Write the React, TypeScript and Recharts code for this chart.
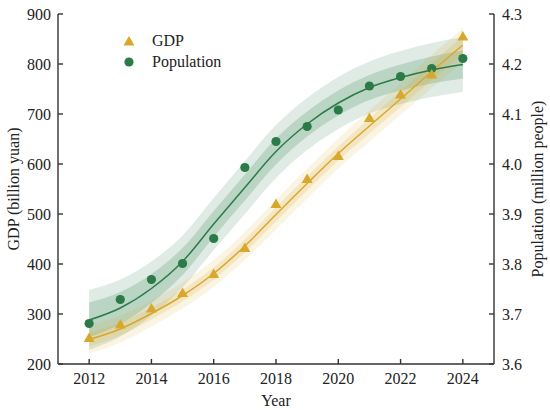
import {
    ComposedChart,
    Area,
    Line,
    Scatter,
    XAxis,
    YAxis,
    Legend,
} from 'recharts';

// yearly observations
const years = [2012, 2013, 2014, 2015, 2016, 2017, 2018, 2019, 2020, 2021, 2022, 2023, 2024];
const gdp = [251, 278, 310, 341, 379, 431, 519, 569, 615, 691, 738, 778, 854];
const population = [3.681, 3.729, 3.769, 3.801, 3.851, 3.993, 4.045, 4.075, 4.108, 4.156, 4.175, 4.191, 4.211];

// fitted curves
const gdpFit = [249, 270, 301, 337, 381, 436, 499, 561, 621, 676, 730, 785, 838];
const gdpInnerLow = [235, 257, 289, 325, 369, 423, 485, 547, 607, 661, 714, 768, 820];
const gdpInnerHigh = [263, 283, 313, 349, 393, 449, 513, 575, 635, 691, 746, 802, 856];
const gdpOuterLow = [221, 243, 275, 311, 354, 408, 469, 531, 591, 645, 698, 752, 804];
const gdpOuterHigh = [277, 297, 327, 363, 408, 464, 529, 591, 651, 707, 762, 818, 872];

const popFit = [3.688, 3.712, 3.751, 3.805, 3.880, 3.953, 4.025, 4.080, 4.122, 4.153, 4.173, 4.188, 4.199];
const popInnerLow = [3.653, 3.680, 3.722, 3.778, 3.854, 3.927, 3.999, 4.055, 4.097, 4.128, 4.147, 4.161, 4.171];
const popInnerHigh = [3.723, 3.744, 3.780, 3.832, 3.906, 3.979, 4.051, 4.105, 4.147, 4.178, 4.199, 4.215, 4.227];
const popOuterLow = [3.628, 3.655, 3.697, 3.753, 3.828, 3.900, 3.972, 4.028, 4.070, 4.101, 4.120, 4.134, 4.144];
const popOuterHigh = [3.748, 3.769, 3.805, 3.857, 3.932, 4.006, 4.078, 4.132, 4.174, 4.205, 4.226, 4.242, 4.254];

const yearTicks = [2012, 2014, 2016, 2018, 2020, 2022, 2024];
const gdpTicks = [200, 300, 400, 500, 600, 700, 800, 900];
const popTicks = [3.6, 3.7, 3.8, 3.9, 4.0, 4.1, 4.2, 4.3];

const GOLD = '#d8a82a';
const GREEN = '#2b7b49';
const AXIS = '#333';
const FONT = '"Liberation Serif", "Times New Roman", serif';

const chartData = years.map((year, i) => ({
    year,
    gdp: gdp[i],
    pop: population[i],
    gdpFit: gdpFit[i],
    gdpInner: [gdpInnerLow[i], gdpInnerHigh[i]],
    gdpOuter: [gdpOuterLow[i], gdpOuterHigh[i]],
    popFit: popFit[i],
    popInner: [popInnerLow[i], popInnerHigh[i]],
    popOuter: [popOuterLow[i], popOuterHigh[i]],
}));

const tickStyle = {fontSize: 16, fill: '#222', fontFamily: FONT};

const Triangle = ({cx, cy}: { cx?: number; cy?: number }) => {
    if (cx == null || cy == null) return null;
    return <polygon points={`${cx},${cy - 6} ${cx - 5.5},${cy + 3.5} ${cx + 5.5},${cy + 3.5}`} fill={GOLD}/>;
};

const Dot = ({cx, cy}: { cx?: number; cy?: number }) => {
    if (cx == null || cy == null) return null;
    return <circle cx={cx} cy={cy} r={4.6} fill={GREEN}/>;
};

// rotated axis title, placed from the axis box
const sideTitle = (text: string, dx: number) => (props: any) => {
    const {x, y, width, height} = props.viewBox;
    const cx = dx < 0 ? x + width + dx : x + dx;
    const cy = y + height / 2;
    return (
        <text x={cx} y={cy} transform={`rotate(-90 ${cx} ${cy})`} textAnchor="middle"
              dominantBaseline="central" fontSize={16} fill="#222" fontFamily={FONT}>
            {text}
        </text>
    );
};

const yearTitle = (props: any) => {
    const {x, y, width} = props.viewBox;
    return (
        <text x={x + width / 2} y={y + 36} textAnchor="middle" dominantBaseline="central"
              fontSize={16} fill="#222" fontFamily={FONT}>
            Year
        </text>
    );
};

const LegendBox = () => (
    <div style={{fontFamily: FONT, fontSize: 16, color: '#222'}}>
        {[{name: 'GDP', mark: 'tri'}, {name: 'Population', mark: 'dot'}].map((item) => (
            <div key={item.name} style={{display: 'flex', alignItems: 'center', height: 21}}>
                <svg width={16} height={16} style={{marginRight: 15}}>
                    {item.mark === 'tri' ? <Triangle cx={8} cy={9}/> : <Dot cx={8} cy={8}/>}
                </svg>
                <span>{item.name}</span>
            </div>
        ))}
    </div>
);

export default function App() {
    return (
        <div style={{position: 'absolute', left: 0, top: 0, width: 550, height: 410, fontFamily: FONT}}>
            <ComposedChart width={550} height={410} data={chartData}
                           margin={{top: 14, right: 0, left: 0, bottom: 0}}>
                <XAxis dataKey="year" type="number" domain={[2011, 2025]} ticks={yearTicks}
                       height={46} tick={tickStyle} tickSize={-5} tickMargin={14}
                       axisLine={{stroke: AXIS, strokeWidth: 1.4}} tickLine={{stroke: AXIS, strokeWidth: 1.4}}
                       label={yearTitle}/>
                <YAxis yAxisId="left" orientation="left" domain={[200, 900]} ticks={gdpTicks}
                       width={58} tick={tickStyle} tickSize={-5} tickMargin={12}
                       axisLine={{stroke: AXIS, strokeWidth: 1.4}} tickLine={{stroke: AXIS, strokeWidth: 1.4}}
                       label={sideTitle('GDP (billion yuan)', 13.5)}/>
                <YAxis yAxisId="right" orientation="right" domain={[3.6, 4.3]} ticks={popTicks}
                       width={56} tick={tickStyle} tickSize={-5} tickMargin={13}
                       tickFormatter={(v: number) => v.toFixed(1)}
                       axisLine={{stroke: AXIS, strokeWidth: 1.4}} tickLine={{stroke: AXIS, strokeWidth: 1.4}}
                       label={sideTitle('Population (million people)', -13)}/>

                <Legend layout="vertical" align="center" verticalAlign="middle" content={<LegendBox/>}
                        wrapperStyle={{left: 121, top: 30, width: 'auto'}}/>

                <Area yAxisId="right" dataKey="popOuter" type="monotone" stroke="none"
                      fill={GREEN} fillOpacity={0.15} isAnimationActive={false} legendType="none"/>
                <Area yAxisId="right" dataKey="popInner" type="monotone" stroke="none"
                      fill={GREEN} fillOpacity={0.2} isAnimationActive={false} legendType="none"/>
                <Area yAxisId="left" dataKey="gdpOuter" type="monotone" stroke="none"
                      fill={GOLD} fillOpacity={0.13} isAnimationActive={false} legendType="none"/>
                <Area yAxisId="left" dataKey="gdpInner" type="monotone" stroke="none"
                      fill={GOLD} fillOpacity={0.18} isAnimationActive={false} legendType="none"/>

                <Line yAxisId="left" dataKey="gdpFit" type="monotone" stroke={GOLD} strokeWidth={1.5}
                      dot={false} activeDot={false} isAnimationActive={false}/>
                <Line yAxisId="right" dataKey="popFit" type="monotone" stroke={GREEN} strokeWidth={1.5}
                      dot={false} activeDot={false} isAnimationActive={false}/>

                <Scatter yAxisId="right" dataKey="pop" name="Population" shape={<Dot/>} isAnimationActive={false}/>
                <Scatter yAxisId="left" dataKey="gdp" name="GDP" shape={<Triangle/>} isAnimationActive={false}/>
            </ComposedChart>
        </div>
    );
}
